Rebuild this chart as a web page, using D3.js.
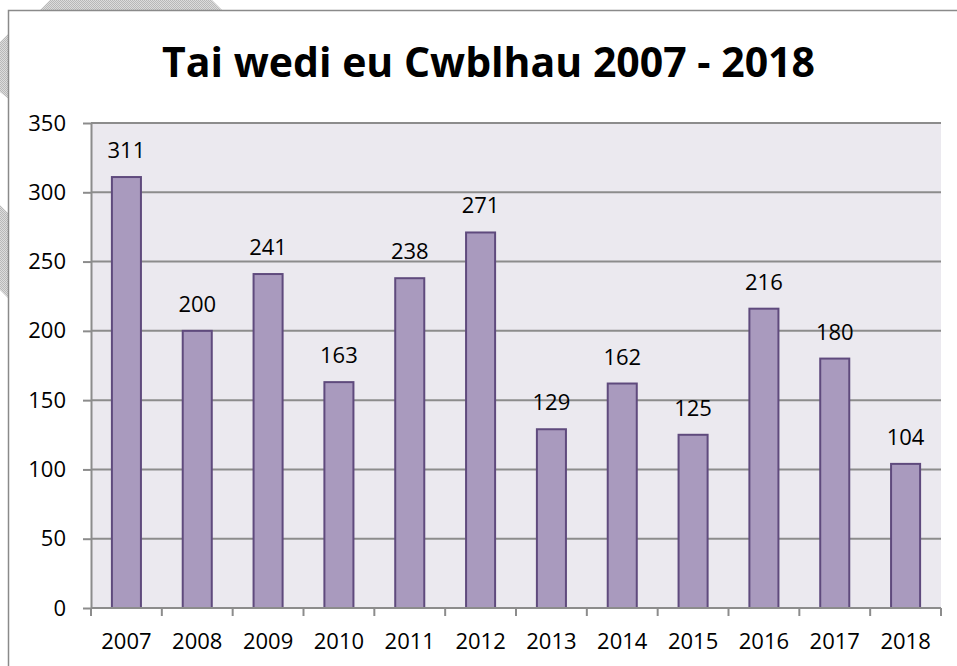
<!DOCTYPE html>
<html><head><meta charset="utf-8">
<script src="https://cdn.jsdelivr.net/npm/d3@7"></script>
<style>
html,body{margin:0;padding:0;background:#fff;}
svg{display:block;}
</style></head>
<body>
<svg id="chart" width="957" height="666"></svg>
<script>
const title = "Tai wedi eu Cwblhau 2007 - 2018";
const years = ["2007","2008","2009","2010","2011","2012","2013","2014","2015","2016","2017","2018"];
const completed = [311,200,241,163,238,271,129,162,125,216,180,104];
const yTicks = [0,50,100,150,200,250,300,350];

const W = 957, H = 666;
const plot = {left: 91, right: 941, top: 123, bottom: 608};
const font = "'Open Sans', 'Liberation Sans', sans-serif";

const svg = d3.select("#chart");

// hatched watermark pattern behind chart
const defs = svg.append("defs");
const pat = defs.append("pattern").attr("id","hatch").attr("patternUnits","userSpaceOnUse")
  .attr("width",2).attr("height",2);
pat.append("rect").attr("width",2).attr("height",2).attr("fill","#dcdcdc");
pat.append("rect").attr("width",1).attr("height",1).attr("fill","#b8b8b8");
pat.append("rect").attr("x",1).attr("y",1).attr("width",1).attr("height",1).attr("fill","#b8b8b8");
const wm = svg.append("g");
[
  [[38,12],[50,0],[212,0],[224,12]],
  [[0,42],[10,32],[10,100],[0,92]],
  [[0,205],[10,215],[10,300],[0,290]]
].forEach(p => wm.append("polygon").attr("points", p.map(d=>d.join(",")).join(" ")).attr("fill","url(#hatch)"));

// chart border
svg.append("rect").attr("x",8.5).attr("y",10.5).attr("width",W).attr("height",H)
  .attr("fill","#fff").attr("stroke","#8a8a8a").attr("stroke-width",1.5);

const x = d3.scaleBand().domain(years).range([plot.left, plot.right]).paddingInner(0.59).paddingOuter(0.295);
const y = d3.scaleLinear().domain([0,350]).range([plot.bottom, plot.top]);

// plot background
svg.append("rect").attr("x",plot.left).attr("y",plot.top)
  .attr("width",plot.right-plot.left).attr("height",plot.bottom-plot.top).attr("fill","#ebe9ef");

// gridlines
svg.append("g").selectAll("line").data(yTicks.filter(d=>d>0)).join("line")
  .attr("x1",plot.left).attr("x2",plot.right).attr("y1",d=>y(d)).attr("y2",d=>y(d))
  .attr("stroke","#8c8c8c").attr("stroke-width",2);

// bars
svg.append("g").selectAll("rect").data(completed).join("rect")
  .attr("x",(d,i)=>x(years[i])).attr("width",x.bandwidth())
  .attr("y",d=>y(d)).attr("height",d=>y(0)-y(d))
  .attr("fill","#a99abe").attr("stroke","#5f4a7d").attr("stroke-width",2);

// data labels
svg.append("g").selectAll("text").data(completed).join("text")
  .attr("x",(d,i)=>x(years[i])+x.bandwidth()/2).attr("y",d=>y(d)-19)
  .attr("text-anchor","middle").attr("font-family",font).attr("font-size",22).attr("fill","#000")
  .text(d=>d);

// y axis
const yAxis = svg.append("g").attr("transform",`translate(${plot.left},0)`)
  .call(d3.axisLeft(y).tickValues(yTicks).tickSize(8).tickPadding(17).tickSizeOuter(0));
yAxis.select(".domain").attr("stroke","#8c8c8c").attr("stroke-width",2);
yAxis.selectAll(".tick line").attr("stroke","#8c8c8c").attr("stroke-width",2);
yAxis.selectAll(".tick text").attr("font-family",font).attr("font-size",22).attr("fill","#000");

// x axis with ticks at category boundaries
const xAxisG = svg.append("g").attr("transform",`translate(0,${plot.bottom})`);
xAxisG.append("line").attr("x1",plot.left).attr("x2",plot.right).attr("stroke","#8c8c8c").attr("stroke-width",2);
const step = x.step();
const bounds = d3.range(years.length+1).map(i => i===years.length ? x(years[i-1]) + x.bandwidth() + step*x.paddingInner()/2 : x(years[i]) - step*x.paddingInner()/2);
xAxisG.selectAll(".bt").data(bounds).join("line").attr("class","bt")
  .attr("x1",d=>d).attr("x2",d=>d).attr("y1",0).attr("y2",8)
  .attr("stroke","#8c8c8c").attr("stroke-width",2);
xAxisG.selectAll("text").data(years).join("text")
  .attr("x",d=>x(d)+x.bandwidth()/2).attr("y",41)
  .attr("text-anchor","middle").attr("font-family",font).attr("font-size",22).attr("fill","#000")
  .text(d=>d);

// title
svg.append("text").attr("x",488.5).attr("y",77)
  .attr("text-anchor","middle").attr("font-family",font).attr("font-weight","bold")
  .attr("font-size",41).attr("fill","#000").text(title);
</script>
</body></html>
